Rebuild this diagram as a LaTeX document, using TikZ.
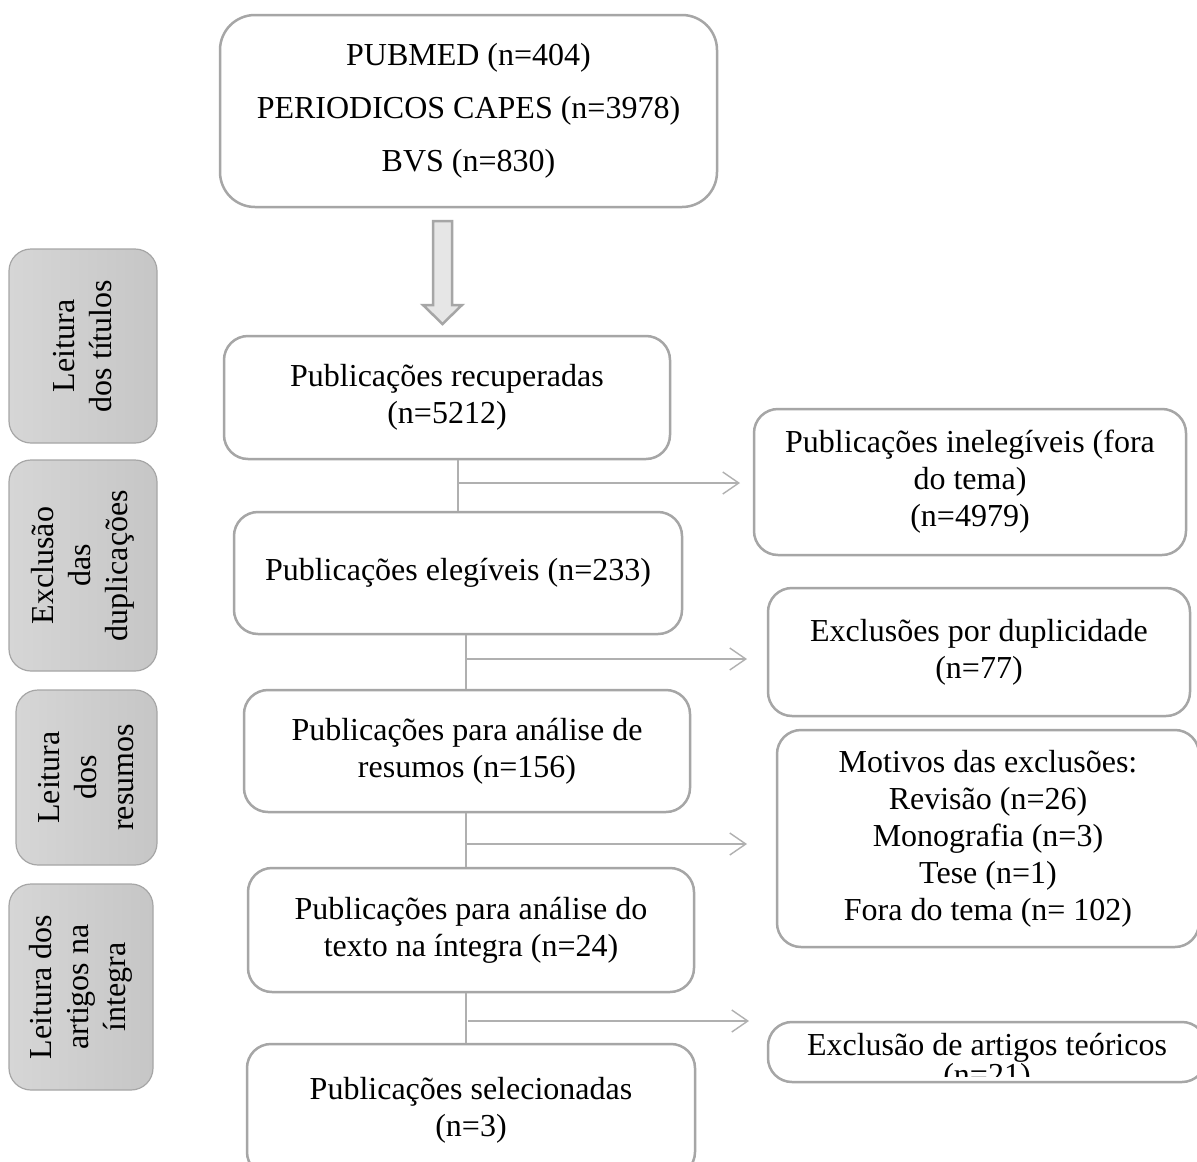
\documentclass[tikz,border=0pt]{standalone}
\usepackage{fontspec}
\setmainfont{Liberation Serif}
\usetikzlibrary{arrows.meta}
\definecolor{boxgray}{HTML}{A6A6A6}
\definecolor{linegray}{HTML}{B0B0B0}
\definecolor{arrowfill}{HTML}{E6E6E6}
\definecolor{sidelight}{HTML}{D6D6D6}
\definecolor{sidedark}{HTML}{C6C6C6}
\tikzset{
  mainbox/.style={draw=boxgray, line width=2.5pt, rounded corners=24pt, align=center,
    font=\fontsize{32}{37}\selectfont, inner sep=0pt},
  sidebox/.style={draw=boxgray, line width=1.2pt, rounded corners=22pt, align=center,
    font=\fontsize{32}{37}\selectfont, inner sep=0pt, rotate=90,
    left color=sidelight, right color=sidedark},
  conn/.style={draw=linegray, line width=1.6pt},
  connarrow/.style={conn, -{Straight Barb[length=16pt,width=22pt,line width=1.4pt]}}
}
\begin{document}
\begin{tikzpicture}[x=1pt,y=-1pt]
\clip (0,0) rectangle (1197,1162);
\fill[white] (0,0) rectangle (1197,1162);

% top sources box
\node[mainbox, rounded corners=35pt, minimum width=497pt, minimum height=192pt,
  font=\fontsize{32}{53}\selectfont] (top) at (468.5,111)
  {PUBMED (n=404)\\PERIODICOS CAPES (n=3978)\\BVS (n=830)};

% big block arrow
\draw[draw=boxgray, fill=arrowfill, line width=2.5pt, line join=miter]
  (433,221) -- (452,221) -- (452,305) -- (462,305) -- (442.5,324)
  -- (423,305) -- (433,305) -- cycle;

% side boxes
\node[sidebox, minimum width=194pt, minimum height=148pt] (L1) at (83,346)
  {Leitura\\dos títulos};
\node[sidebox, minimum width=211pt, minimum height=148pt] (L2) at (83,565.5)
  {Exclusão\\das\\duplicações};
\node[sidebox, minimum width=175pt, minimum height=141pt] (L3) at (86.5,777.5)
  {Leitura\\dos\\resumos};
\node[sidebox, minimum width=206pt, minimum height=144pt] (L4) at (81,987)
  {Leitura dos\\artigos na\\íntegra};

% main column
\node[mainbox, minimum width=446pt, minimum height=123pt] (A) at (447,397.5)
  {Publicações recuperadas\\(n=5212)};
\node[mainbox, minimum width=448pt, minimum height=122pt] (B) at (458,573)
  {Publicações elegíveis (n=233)};
\node[mainbox, minimum width=446pt, minimum height=122pt] (C) at (467,751)
  {Publicações para análise de\\resumos (n=156)};
\node[mainbox, minimum width=446pt, minimum height=124pt] (D) at (471,930)
  {Publicações para análise do\\texto na íntegra (n=24)};
\node[mainbox, minimum width=448pt, minimum height=132pt] (E) at (471,1110)
  {Publicações selecionadas\\(n=3)};

% right column
\node[mainbox, minimum width=432pt, minimum height=146pt] (R1) at (970,482)
  {Publicações inelegíveis (fora\\do tema)\\(n=4979)};
\node[mainbox, minimum width=422pt, minimum height=128pt] (R2) at (979,652)
  {Exclusões por duplicidade\\(n=77)};
\node[mainbox, minimum width=422pt, minimum height=217pt] (R3) at (988,838.5)
  {Motivos das exclusões:\\Revisão (n=26)\\Monografia (n=3)\\Tese (n=1)\\Fora do tema (n= 102)};
\node[mainbox, minimum width=438pt, minimum height=60pt] (R4) at (987,1052) {};
\begin{scope}
  \clip (768,1022) rectangle (1206,1076);
  \node[align=center, font=\fontsize{32}{28}\selectfont, inner sep=0pt] (R4t) at (987,1063)
    {Exclusão de artigos teóricos\\(n=21)};
\end{scope}

% connectors
\coordinate (v1) at (458,0);
\coordinate (v2) at (466,0);
\coordinate (j1) at (458,483);
\coordinate (t1) at (740,483);
\coordinate (j2) at (466,659);
\coordinate (t2) at (747,659);
\coordinate (j3) at (466,844);
\coordinate (t3) at (747,844);
\coordinate (j4) at (468,1021);
\coordinate (t4) at (749,1021);

\draw[conn] (A.south -| v1) -- (B.north -| v1);
\draw[connarrow] (j1) -- (t1);
\draw[conn] (B.south -| v2) -- (C.north -| v2);
\draw[connarrow] (j2) -- (t2);
\draw[conn] (C.south -| v2) -- (D.north -| v2);
\draw[connarrow] (j3) -- (t3);
\draw[conn] (D.south -| v2) -- (E.north -| v2);
\draw[connarrow] (j4) -- (t4);
\end{tikzpicture}
\end{document}
